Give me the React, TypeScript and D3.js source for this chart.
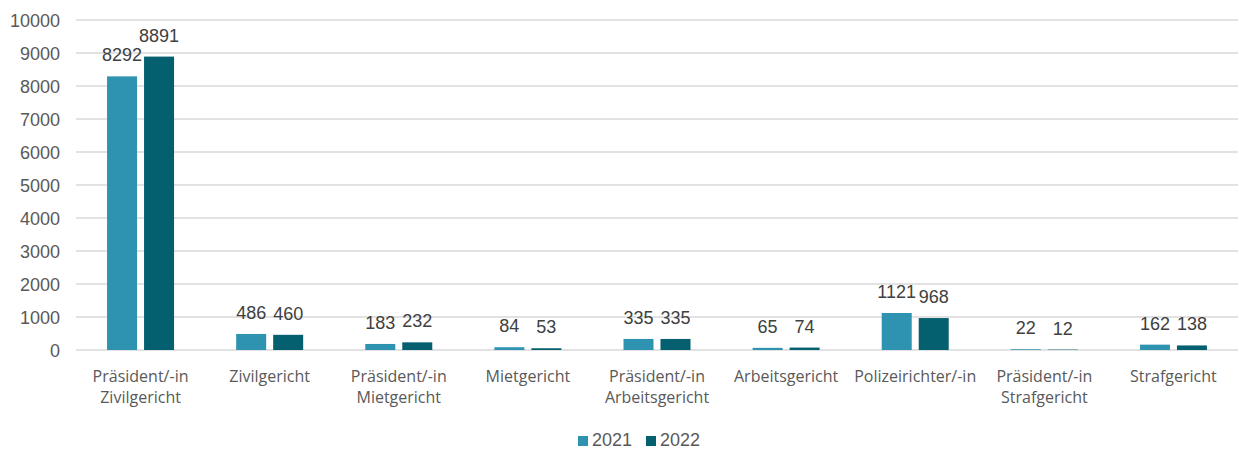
import React from "react";
import * as d3 from "d3";

const categories = [
  ["Präsident/-in", "Zivilgericht"],
  ["Zivilgericht"],
  ["Präsident/-in", "Mietgericht"],
  ["Mietgericht"],
  ["Präsident/-in", "Arbeitsgericht"],
  ["Arbeitsgericht"],
  ["Polizeirichter/-in"],
  ["Präsident/-in", "Strafgericht"],
  ["Strafgericht"],
];
const values2021 = [8292, 486, 183, 84, 335, 65, 1121, 22, 162];
const values2022 = [8891, 460, 232, 53, 335, 74, 968, 12, 138];
const seriesNames = ["2021", "2022"];
const yTicks = [0, 1000, 2000, 3000, 4000, 5000, 6000, 7000, 8000, 9000, 10000];
const colors = ["#2E93B1", "#045F6E"];

export default function App() {
  const W = 1239, H = 450;
  const left = 76, right = 1238, top = 20, bottom = 350;
  const x = d3.scaleBand<number>().domain(d3.range(categories.length)).range([left, right]);
  const y = d3.scaleLinear().domain([0, 10000]).range([bottom, top]);
  const barW = 30, gap = 7;
  const series = [values2021, values2022];
  return (
    <svg width={W} height={H} style={{ position: "absolute", left: 0, top: 0, background: "#fff" }}>
      {yTicks.map((t) => (
        <g key={t}>
          <line x1={left} x2={right} y1={y(t)} y2={y(t)} stroke="#D9D9D9" strokeWidth={1.5} />
          <text x={60} y={y(t) + 7} textAnchor="end" fontFamily="Liberation Sans, Arial" fontSize={18} fill="#595959">{t}</text>
        </g>
      ))}
      {categories.map((c, i) => {
        const cx = (x(i) as number) + x.bandwidth() / 2;
        return (
          <g key={i}>
            {series.map((s, j) => {
              const bx = j === 0 ? cx - gap / 2 - barW : cx + gap / 2;
              const v = s[i];
              return (
                <g key={j}>
                  <rect x={bx} y={y(v)} width={barW} height={bottom - y(v)} fill={colors[j]} />
                  <text x={bx + barW / 2} y={y(v) - 15} textAnchor="middle" fontFamily="Liberation Sans, Arial" fontSize={18} fill="#404040">{v}</text>
                </g>
              );
            })}
            {c.map((line, k) => (
              <text key={k} x={cx} y={382 + k * 21} textAnchor="middle" fontFamily="Open Sans, sans-serif" fontSize={16} fill="#595959">{line}</text>
            ))}
          </g>
        );
      })}
      {seriesNames.map((n, j) => {
        const lx = 578 + j * 68;
        return (
          <g key={n}>
            <rect x={lx} y={436} width={10} height={10} fill={colors[j]} />
            <text x={lx + 14} y={446} fontFamily="Liberation Sans, Arial" fontSize={18} fill="#595959">{n}</text>
          </g>
        );
      })}
    </svg>
  );
}
